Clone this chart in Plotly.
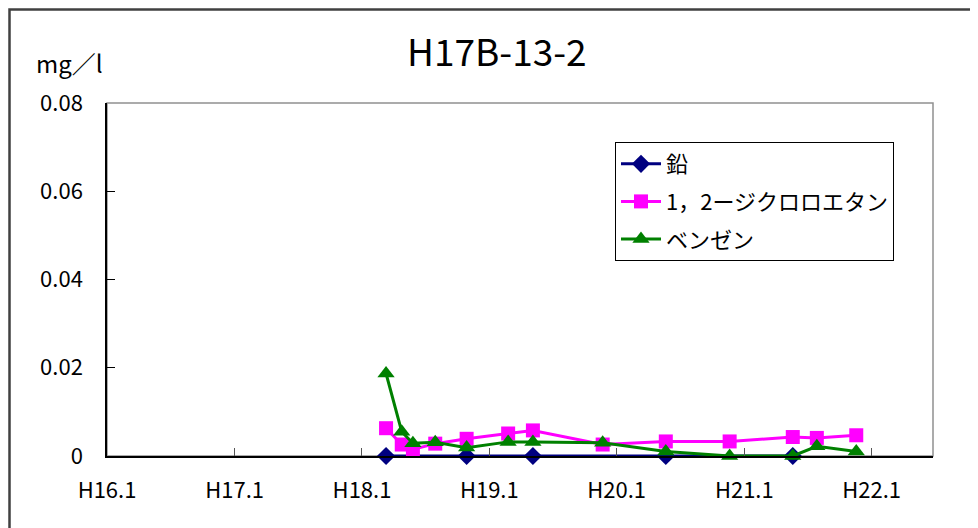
import plotly.graph_objects as go

# ---- data ----
dates = ["2006-03-11", "2006-04-25", "2006-05-27", "2006-07-30", "2006-10-28",
         "2007-02-24", "2007-05-06", "2007-11-22", "2008-05-21", "2008-11-20",
         "2009-05-20", "2009-07-28", "2009-11-18"]
lead_dates = ["2006-03-11", "2006-10-28", "2007-05-06", "2008-05-21", "2009-05-20"]
lead_vals = [0, 0, 0, 0, 0]
dce_vals = [0.0063, 0.0026, 0.0015, 0.0028, 0.0039, 0.0051, 0.0058,
            0.0026, 0.0033, 0.0033, 0.0043, 0.0041, 0.0047]
benz_vals = [0.0187, 0.0055, 0.0029, 0.0031, 0.0019, 0.0032, 0.0032,
             0.0030, 0.0010, 0.0, 0.0, 0.0022, 0.0010]
tick_dates = ["2004-01-01", "2005-01-01", "2006-01-01", "2007-01-01",
              "2008-01-01", "2009-01-01", "2010-01-01"]
tick_text = ["H16.1", "H17.1", "H18.1", "H19.1", "H20.1", "H21.1", "H22.1"]
y_ticks = [0, 0.02, 0.04, 0.06, 0.08]
y_text = ["0", "0.02", "0.04", "0.06", "0.08"]
names = ["鉛", "1，2ージクロロエタン", "ベンゼン"]
title_text = "H17B-13-2"
unit_text = "mg／l"

FONT = "Noto Sans CJK JP, Liberation Sans, sans-serif"

fig = go.Figure()
fig.add_trace(go.Scatter(x=lead_dates, y=lead_vals, name=names[0], mode="lines+markers",
                         legendgroup="a",
                         line=dict(color="#000080", width=3),
                         marker=dict(symbol="diamond", size=14, color="#000080"),
                         cliponaxis=False))
fig.add_trace(go.Scatter(x=dates, y=dce_vals, name=names[1], mode="lines+markers",
                         legendgroup="b",
                         line=dict(color="#FF00FF", width=3),
                         marker=dict(symbol="square", size=14, color="#FF00FF"),
                         cliponaxis=False))
fig.add_trace(go.Scatter(x=dates, y=benz_vals, name=names[2], mode="lines+markers",
                         legendgroup="c",
                         line=dict(color="#008000", width=3),
                         marker=dict(symbol="triangle-up", size=15, color="#008000"),
                         cliponaxis=False))

# page body has an 8px margin: the figure starts at screen (8, 8)
OFF = 8
W, H = 978 - OFF, 528 - OFF
# plot area in screen pixels: x 107..933, y 103..456
SL, SR, ST, SB = 107, 933, 103, 456
L, T = SL - OFF, ST - OFF
R = W - (SR - OFF)
B = H - (SB - OFF)
pw, ph = W - L - R, H - T - B

def px_x(x):  # screen px -> paper
    return (x - SL) / pw

def px_y(y):
    return (SB - y) / ph

fig.update_layout(
    width=W, height=H,
    margin=dict(l=L, r=R, t=T, b=B),
    paper_bgcolor="white", plot_bgcolor="white",
    font=dict(family=FONT, color="black"),
    showlegend=True,
    legend=dict(x=px_x(615), y=px_y(142), xanchor="left", yanchor="top",
                bordercolor="black", borderwidth=1, bgcolor="white",
                font=dict(size=22, family=FONT), tracegroupgap=6,
                traceorder="grouped", itemwidth=40, entrywidth=235),
    xaxis=dict(type="date", range=["2004-01-01", "2010-06-26"],
               tickmode="array", tickvals=tick_dates, ticktext=tick_text,
               ticks="inside", ticklen=8, tickcolor="#555555", tickwidth=1,
               showline=True, linecolor="black", linewidth=1.5,
               showgrid=False, zeroline=False,
               tickfont=dict(size=22, family=FONT), ticklabelstandoff=14),
    yaxis=dict(range=[0, 0.08], tickmode="array", tickvals=y_ticks, ticktext=y_text,
               ticks="inside", ticklen=8, tickcolor="black", tickwidth=1,
               showline=True, linecolor="black", linewidth=1.5,
               showgrid=False, zeroline=False,
               tickfont=dict(size=22, family=FONT), ticklabelstandoff=18),
    shapes=[
        dict(type="rect", xref="paper", yref="paper", x0=0, x1=1, y0=0, y1=1,
             line=dict(color="#909090", width=1.5), layer="below"),
        dict(type="rect", xref="paper", yref="paper",
             x0=px_x(9.5), x1=px_x(1010), y0=px_y(560), y1=px_y(9.5),
             line=dict(color="#404040", width=2.5), layer="below"),
    ],
    annotations=[
        dict(text=title_text, xref="paper", yref="paper", x=px_x(497), y=px_y(50),
             xanchor="center", yanchor="middle", showarrow=False,
             font=dict(size=37, family=FONT)),
        dict(text=unit_text, xref="paper", yref="paper", x=px_x(34), y=px_y(62),
             xanchor="left", yanchor="middle", showarrow=False,
             font=dict(size=24, family=FONT)),
    ],
)

fig.write_html("out.html")
